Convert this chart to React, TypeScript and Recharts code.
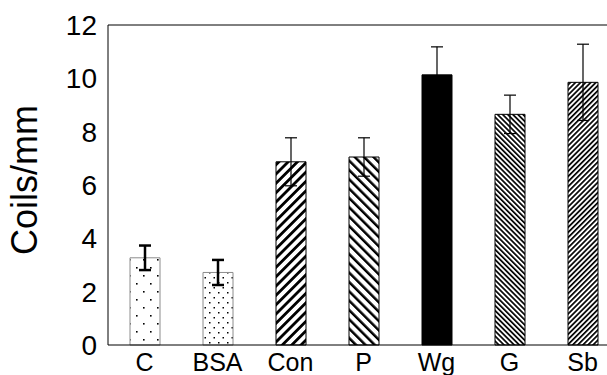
import { ComposedChart, Bar, Cell, ErrorBar, XAxis, YAxis, ReferenceLine } from "recharts"

const groups = ["C", "BSA", "Con", "P", "Wg", "G", "Sb"]
const coils = [3.27, 2.72, 6.87, 7.05, 10.13, 8.65, 9.85]
const errors = [0.46, 0.47, 0.9, 0.72, 1.05, 0.72, 1.43]
const yTicks = [0, 2, 4, 6, 8, 10, 12]
const fills = ["url(#dotsC)", "url(#dotsBSA)", "url(#wideFwd)", "url(#wideBack)", "#000", "url(#fineBack)", "url(#fineFwd)"]
const outlines = ["#8c8c8c", "#8c8c8c", "#000", "#000", "#000", "#000", "#000"]
// thick error bars on the two dotted bars only
const thickErr = [true, true, false, false, false, false, false]

const font = "'Liberation Sans', Arial, sans-serif"

function YLabel() {
  const x = 24
  const y = 180
  return (
    <text x={x} y={y} transform={`rotate(-90 ${x} ${y})`} textAnchor="middle" dominantBaseline="central"
      fontSize={36} fontFamily={font} fill="#000">
      Coils/mm
    </text>
  )
}

function Patterns() {
  return (
    <svg width={0} height={0} style={{ position: "absolute" }}>
      <defs>
        <pattern id="dotsC" patternUnits="userSpaceOnUse" width={14} height={16}>
          <rect width={14} height={16} fill="#fff" />
          <rect x={3} y={3} width={1.6} height={1.6} fill="#000" />
          <rect x={10} y={11} width={1.6} height={1.6} fill="#000" />
        </pattern>
        <pattern id="dotsBSA" patternUnits="userSpaceOnUse" width={9} height={10}>
          <rect width={9} height={10} fill="#fff" />
          <rect x={2} y={2} width={1.5} height={1.5} fill="#000" />
          <rect x={6.5} y={7} width={1.5} height={1.5} fill="#000" />
        </pattern>
        <pattern id="wideFwd" patternUnits="userSpaceOnUse" width={6.6} height={6.6} patternTransform="rotate(45)">
          <rect width={6.6} height={6.6} fill="#fff" />
          <rect width={2.8} height={6.6} fill="#000" />
        </pattern>
        <pattern id="wideBack" patternUnits="userSpaceOnUse" width={6.6} height={6.6} patternTransform="rotate(-45)">
          <rect width={6.6} height={6.6} fill="#fff" />
          <rect width={2.5} height={6.6} fill="#000" />
        </pattern>
        <pattern id="fineBack" patternUnits="userSpaceOnUse" width={3.6} height={3.6} patternTransform="rotate(-45)">
          <rect width={3.6} height={3.6} fill="#fff" />
          <rect width={1.7} height={3.6} fill="#000" />
        </pattern>
        <pattern id="fineFwd" patternUnits="userSpaceOnUse" width={3.6} height={3.6} patternTransform="rotate(45)">
          <rect width={3.6} height={3.6} fill="#fff" />
          <rect width={1.7} height={3.6} fill="#000" />
        </pattern>
      </defs>
    </svg>
  )
}

export default function App() {
  const data = groups.map((g, i) => ({
    group: g,
    coils: coils[i],
    errThick: thickErr[i] ? errors[i] : null,
    errThin: thickErr[i] ? null : errors[i],
  }))

  return (
    <div style={{ position: "absolute", left: 0, top: 0, width: 607, height: 375, overflow: "hidden", background: "#fff" }}>
      <Patterns />
      <ComposedChart width={625} height={375} data={data} margin={{ top: 25, right: 6, left: 0, bottom: 0 }}>
        <XAxis dataKey="group" height={30} tickSize={0} tickMargin={8} axisLine={{ stroke: "#000" }}
          tick={{ fontSize: 25, fontFamily: font, fill: "#000" }} interval={0} />
        <YAxis domain={[0, 12]} ticks={yTicks} width={108} tickSize={0} tickMargin={11} axisLine={{ stroke: "#000" }}
          tick={{ fontSize: 28, fontFamily: font, fill: "#000" }} label={<YLabel />} />
        <ReferenceLine y={12} stroke="#000" />
        <Bar dataKey="coils" barSize={30} isAnimationActive={false}>
          {data.map((d, i) => (
            <Cell key={d.group} fill={fills[i]} stroke={outlines[i]} strokeWidth={1} />
          ))}
          <ErrorBar dataKey="errThick" width={6} stroke="#000" strokeWidth={2.5} isAnimationActive={false} />
          <ErrorBar dataKey="errThin" width={6} stroke="#000" strokeWidth={1.2} isAnimationActive={false} />
        </Bar>
      </ComposedChart>
    </div>
  )
}
